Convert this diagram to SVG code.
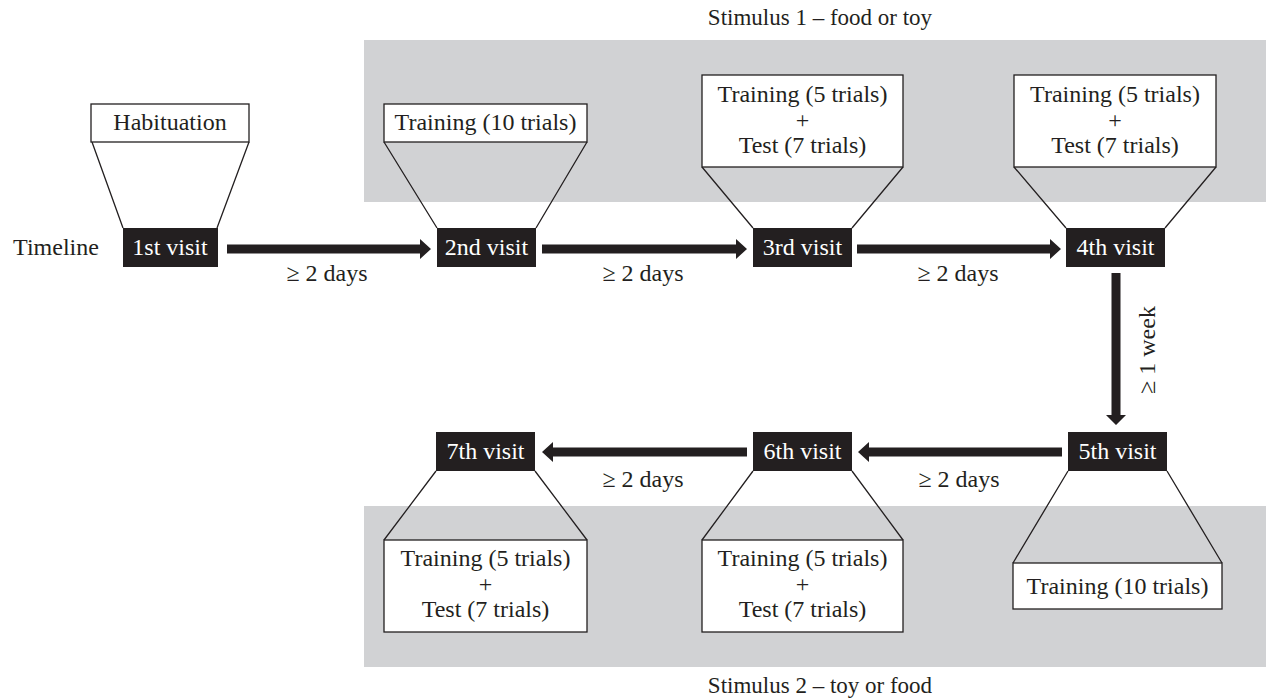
<svg xmlns="http://www.w3.org/2000/svg" width="1266" height="699" viewBox="0 0 1266 699">
<style>
text{font-family:"Liberation Serif","Times New Roman",serif;font-size:24px;fill:#231f20;text-anchor:middle}
.stim{font-size:23px}
.band{fill:#d1d2d4}
.box{fill:#fff;stroke:#231f20;stroke-width:1.3}
.vis{fill:#231f20}
.vt{fill:#fff}
.ln{stroke:#231f20;stroke-width:1.3;fill:none}
.arr{fill:#231f20}
</style>
<rect width="1266" height="699" fill="#fff"/>
<g id="bands">
<rect class="band" x="364" y="40" width="902" height="162"/>
<rect class="band" x="364" y="506" width="902" height="161"/>
<text class="stim" x="820" y="25">Stimulus 1 – food or toy</text>
<text class="stim" x="820" y="693">Stimulus 2 – toy or food</text>
</g>
<text id="timeline" x="56" y="255">Timeline</text>
<g id="connectors">
<path class="arr" d="M227,244.5H420V239L431,249L420,259V253.5H227Z"/>
<path class="arr" d="M542,244.5H736V239L747,249L736,259V253.5H542Z"/>
<path class="arr" d="M857,244.5H1050V239L1061,249L1050,259V253.5H857Z"/>
<path class="arr" d="M1111.5,273V415H1106L1116,425L1126,415H1120.5V273Z"/>
<path class="arr" d="M1062,447.5H869V442L858,452L869,462V456.5H1062Z"/>
<path class="arr" d="M747,447.5H553V442L542,452L553,462V456.5H747Z"/>
<text x="327" y="281">≥ 2 days</text>
<text x="643" y="281">≥ 2 days</text>
<text x="958" y="281">≥ 2 days</text>
<text x="643" y="487">≥ 2 days</text>
<text x="959" y="487">≥ 2 days</text>
<text transform="translate(1155,350) rotate(-90)">≥ 1 week</text>
</g>
<g id="visit1">
<path class="ln" d="M92,142L123,228M249,142L217,228"/>
<rect class="box" x="91" y="104" width="158" height="38"/>
<text x="170" y="130">Habituation</text>
<rect class="vis" x="123" y="228" width="95" height="39"/>
<text class="vt" x="170" y="255">1st visit</text>
</g>
<g id="visit2">
<path class="ln" d="M384,142L437,228M587,142L536,228"/>
<rect class="box" x="384" y="104" width="203" height="38"/>
<text x="485.5" y="130">Training (10 trials)</text>
<rect class="vis" x="437" y="228" width="99" height="39"/>
<text class="vt" x="486.5" y="255">2nd visit</text>
</g>
<g id="visit3">
<path class="ln" d="M702,167L753,228M903,167L852,228"/>
<rect class="box" x="702" y="75" width="201" height="92"/>
<text x="802.5" y="102">Training (5 trials)</text>
<text x="802.5" y="128">+</text>
<text x="802.5" y="153">Test (7 trials)</text>
<rect class="vis" x="753" y="228" width="99" height="39"/>
<text class="vt" x="802.5" y="255">3rd visit</text>
</g>
<g id="visit4">
<path class="ln" d="M1014,167L1066,228M1216,167L1165,228"/>
<rect class="box" x="1014" y="75" width="202" height="92"/>
<text x="1115" y="102">Training (5 trials)</text>
<text x="1115" y="128">+</text>
<text x="1115" y="153">Test (7 trials)</text>
<rect class="vis" x="1066" y="228" width="99" height="39"/>
<text class="vt" x="1115.5" y="255">4th visit</text>
</g>
<g id="visit5">
<path class="ln" d="M1068,471L1013,563M1167,471L1222,563"/>
<rect class="box" x="1013" y="563" width="209" height="46"/>
<text x="1117.5" y="594">Training (10 trials)</text>
<rect class="vis" x="1068" y="432" width="99" height="39"/>
<text class="vt" x="1117.5" y="459">5th visit</text>
</g>
<g id="visit6">
<path class="ln" d="M753,471L702,540M852,471L903,540"/>
<rect class="box" x="702" y="540" width="201" height="92"/>
<text x="802.5" y="566">Training (5 trials)</text>
<text x="802.5" y="592">+</text>
<text x="802.5" y="617">Test (7 trials)</text>
<rect class="vis" x="753" y="432" width="99" height="39"/>
<text class="vt" x="802.5" y="459">6th visit</text>
</g>
<g id="visit7">
<path class="ln" d="M436,471L384,540M535,471L587,540"/>
<rect class="box" x="384" y="540" width="203" height="92"/>
<text x="485.5" y="566">Training (5 trials)</text>
<text x="485.5" y="592">+</text>
<text x="485.5" y="617">Test (7 trials)</text>
<rect class="vis" x="436" y="432" width="99" height="39"/>
<text class="vt" x="485.5" y="459">7th visit</text>
</g>
</svg>
